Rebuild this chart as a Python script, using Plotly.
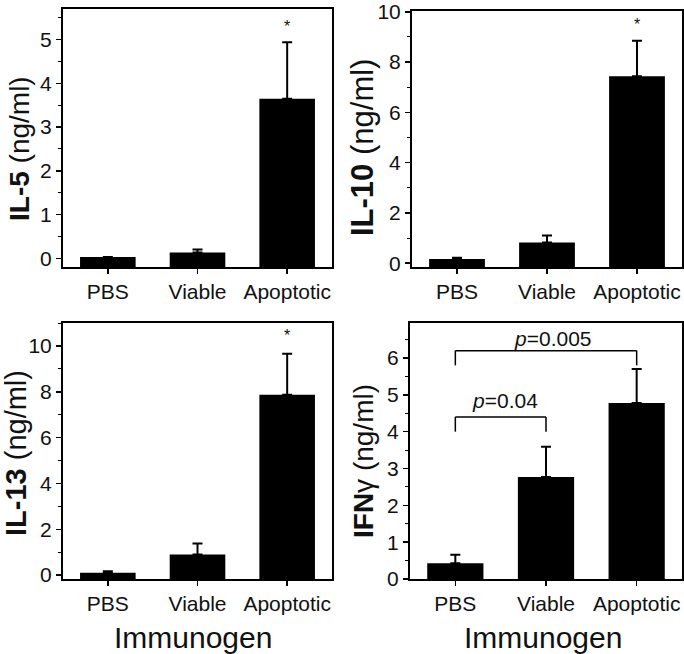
import plotly.graph_objects as go

categories = ["PBS", "Viable", "Apoptotic"]

il5 = [0.03, 0.13, 3.65]
il5_err = [0.0, 0.07, 1.29]
il10 = [0.17, 0.82, 7.44]
il10_err = [0.05, 0.28, 1.41]
il13 = [0.10, 0.90, 7.87]
il13_err = [0.07, 0.48, 1.79]
ifng = [0.43, 2.77, 4.78]
ifng_err = [0.23, 0.82, 0.92]

# significance markers
star_y = [5.3, 9.5, 10.45]
brackets = [  # (from idx, to idx, top y, leg bottom y, label, label x, label y)
    (0, 1, 4.40, 4.00, "<i>p</i>=0.04", 0.55, 4.84),
    (0, 2, 6.20, 5.80, "<i>p</i>=0.005", 1.08, 6.52),
]

W, H = 684, 654
FONT = "Liberation Sans, Arial, sans-serif"

panels = [
    dict(y=il5, err=il5_err, xd=(63, 332), yd=(9, 267), rng=[-0.2, 5.7], dtick=1, minor=0.5,
         title="<b>IL-5</b> (ng/ml)", tsize=28, tx=19, ty=149),
    dict(y=il10, err=il10_err, xd=(412, 682), yd=(11, 267), rng=[-0.15, 10.03], dtick=2, minor=1,
         title="<b>IL-10</b> (ng/ml)", tsize=31, tx=362, ty=148),
    dict(y=il13, err=il13_err, xd=(63, 332), yd=(323, 579), rng=[-0.17, 11.0], dtick=2, minor=1,
         title="<b>IL-13</b> (ng/ml)", tsize=29, tx=16, ty=453),
    dict(y=ifng, err=ifng_err, xd=(410, 682), yd=(323, 579), rng=[0, 6.95], dtick=1, minor=0.5,
         title="<b>IFN</b>γ (ng/ml)", tsize=28, tx=363, ty=461),
]

fig = go.Figure()
layout = dict(
    width=W, height=H, margin=dict(l=0, r=0, t=0, b=0, autoexpand=False),
    paper_bgcolor="white", plot_bgcolor="white", showlegend=False,
    font=dict(family=FONT, color="#111"),
)
annotations = []
shapes = []

for i, p in enumerate(panels):
    n = "" if i == 0 else str(i + 1)
    xa, ya = "x" + n, "y" + n
    base = p["rng"][0]  # bars rise from the bottom of the frame, as in the reference
    fig.add_trace(go.Bar(
        x=[0, 1, 2], y=[v - base for v in p["y"]], base=base,
        xaxis=xa, yaxis=ya, width=0.62,
        marker=dict(color="black", line=dict(width=0)),
        error_y=dict(type="data", array=p["err"], arrayminus=[0, 0, 0], symmetric=False,
                     color="black", thickness=2, width=5),
    ))
    x0, x1 = p["xd"]
    y0, y1 = p["yd"]
    layout["xaxis" + n] = dict(
        domain=[x0 / W, x1 / W], anchor=ya, range=[-0.5, 2.5], automargin=False,
        tickmode="array", tickvals=[0, 1, 2], ticktext=categories,
        ticks="outside", ticklen=5, tickwidth=1.5, tickcolor="black",
        showline=True, linewidth=2, linecolor="black", mirror=True,
        showgrid=False, zeroline=False, fixedrange=True,
        tickfont=dict(size=21, family=FONT, color="#111"),
    )
    layout["yaxis" + n] = dict(
        domain=[1 - y1 / H, 1 - y0 / H], anchor=xa, range=p["rng"], automargin=False,
        dtick=p["dtick"], tick0=0,
        ticks="outside", ticklen=5, tickwidth=1.5, tickcolor="black",
        minor=dict(dtick=p["minor"], tick0=0, ticks="outside", ticklen=3, tickwidth=1, tickcolor="black"),
        showline=True, linewidth=2, linecolor="black", mirror=True,
        showgrid=False, zeroline=False, fixedrange=True,
        tickfont=dict(size=21, family=FONT, color="#111"),
    )
    annotations.append(dict(
        text=p["title"], xref="paper", yref="paper", x=p["tx"] / W, y=1 - p["ty"] / H,
        textangle=-90, showarrow=False, xanchor="center", yanchor="middle",
        font=dict(size=p["tsize"], family=FONT, color="#111"),
    ))
    if i < 3:
        annotations.append(dict(
            text="*", xref=xa, yref=ya, x=2, y=star_y[i], showarrow=False,
            xanchor="center", yanchor="middle", font=dict(size=16, family=FONT, color="#111"),
        ))

# brackets in IFN panel
for a, b, top, leg, label, lx, ly in brackets:
    for (xs, ys, xe, ye) in [(a, leg, a, top), (a, top, b, top), (b, top, b, leg)]:
        shapes.append(dict(type="line", xref="x4", yref="y4", x0=xs, y0=ys, x1=xe, y1=ye,
                           line=dict(color="black", width=1.5)))
    annotations.append(dict(
        text=label, xref="x4", yref="y4", x=lx, y=ly, showarrow=False,
        xanchor="center", yanchor="middle", font=dict(size=21, family=FONT, color="#111"),
    ))

# x-axis titles
for cx in (193, 543):
    annotations.append(dict(
        text="Immunogen", xref="paper", yref="paper", x=cx / W, y=1 - 637 / H,
        showarrow=False, xanchor="center", yanchor="middle",
        font=dict(size=30, family=FONT, color="#111"),
    ))

layout["annotations"] = annotations
layout["shapes"] = shapes
fig.update_layout(**layout)
fig.write_html(
    "out.html",
    config={"displayModeBar": False, "staticPlot": True},
    post_script="document.body.style.margin='0px';document.body.style.overflow='hidden';",
)
